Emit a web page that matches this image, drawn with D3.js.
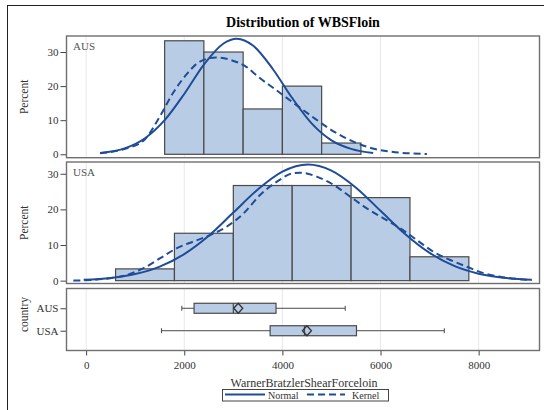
<!DOCTYPE html>
<html><head><meta charset="utf-8">
<script src="https://cdn.jsdelivr.net/npm/d3@7"></script>
<style>body{margin:0;background:#fff}svg{display:block}text{font-family:"Liberation Serif","Times New Roman",serif}</style>
</head><body><div id="chart"></div>
<script>
// ---- data ----
const chartTitle = "Distribution of WBSFloin";
const xTitle = "WarnerBratzlerShearForceloin";
const xTicks = [0, 2000, 4000, 6000, 8000];
const yTicks = [0, 10, 20, 30];
const countries = ["AUS", "USA"];

const ausBinEdges = [1600, 2400, 3200, 4000, 4800, 5600];
const ausPercent = [33.3, 30.0, 13.3, 20.0, 3.3];
const usaBinEdges = [600, 1800, 3000, 4200, 5400, 6600, 7800];
const usaPercent = [3.3, 13.3, 26.7, 26.7, 23.3, 6.7];

const ausNormalX = [285, 800, 1200, 1600, 2000, 2400, 2800, 3070, 3400, 3800, 4200, 4600, 5000, 5400, 5850];
const ausNormalY = [0.4, 1.8, 4.7, 10.0, 17.7, 26.3, 32.5, 33.9, 31.9, 25.1, 16.5, 9.0, 4.1, 1.6, 0.4];
const ausKernelX = [285, 760, 1170, 1510, 1780, 2050, 2320, 2650, 2940, 3280, 3500, 3850, 4260, 4670, 5080, 5480, 5890, 6300, 6945];
const ausKernelY = [0.3, 1.5, 4.0, 11.3, 18.2, 23.5, 27.2, 28.4, 27.7, 25.5, 22.8, 19.1, 14.7, 10.4, 6.4, 3.5, 1.55, 0.6, 0.1];

const usaNormalX = [-50, 500, 1000, 1500, 2000, 2500, 3000, 3500, 4000, 4520, 5000, 5500, 6000, 6500, 7000, 7500, 8000, 8500, 9080];
const usaNormalY = [0.26, 0.77, 1.84, 3.93, 7.47, 12.6, 19.1, 25.6, 30.6, 32.6, 30.9, 26.1, 19.6, 13.1, 7.8, 4.15, 1.96, 0.83, 0.26];
const usaKernelX = [-260, 490, 830, 1170, 1510, 1850, 2190, 2530, 2870, 3210, 3550, 3890, 4230, 4360, 4700, 5040, 5380, 5720, 6060, 6400, 6740, 7080, 7420, 7760, 8100, 8440, 8780, 9080];
const usaKernelY = [0, 0.7, 1.6, 3.5, 6.3, 9.1, 11.0, 12.8, 15.2, 18.9, 24.1, 27.8, 30.2, 30.3, 29.2, 26.9, 23.6, 20.3, 17.5, 14.7, 11.4, 8.1, 5.8, 3.9, 2.1, 1.1, 0.5, 0.2];

const boxMin    = [1950, 1535];
const boxQ1     = [2200, 3750];
const boxMedian = [3000, 4450];
const boxQ3     = [3870, 5510];
const boxMax    = [5280, 7300];
const boxMean   = [3100, 4500];

// ---- layout ----
const W = 544, H = 410;
const curveColor = "#1f4c97";
const fillColor = "#b8cce6";
const edgeColor = "#4a4a4a";
const frameColor = "#6f6f6f";
const gridColor = "#e8e8e8";
const textColor = "#333";

const svg = d3.select("#chart").append("svg").attr("width", W).attr("height", H);

// outer frame
svg.append("rect").attr("x", 7.5).attr("y", 5.5).attr("width", 545).attr("height", 420)
  .attr("fill", "none").attr("stroke", "#222").attr("stroke-width", 1);

const x = d3.scaleLinear().domain([-400, 9240]).range([66.5, 539.5]);

svg.append("text").attr("x", (66.5 + 539.5) / 2).attr("y", 26.5).attr("text-anchor", "middle")
  .attr("font-size", 14).attr("font-weight", "bold").attr("fill", "#000").text(chartTitle);

const panels = [
  {label: "AUS", top: 36, bottom: 157.7, dom: [-1, 34.7], edges: ausBinEdges, pct: ausPercent,
   nx: ausNormalX, ny: ausNormalY, kx: ausKernelX, ky: ausKernelY},
  {label: "USA", top: 162, bottom: 283.5, dom: [-0.8, 33.3], edges: usaBinEdges, pct: usaPercent,
   nx: usaNormalX, ny: usaNormalY, kx: usaKernelX, ky: usaKernelY}
];

function frame(top, bottom) {
  svg.append("rect").attr("x", 66.5).attr("y", top).attr("width", 473).attr("height", bottom - top)
    .attr("fill", "none").attr("stroke", frameColor).attr("stroke-width", 1.4);
}
function grid(g, top, bottom) {
  g.selectAll("line.grid").data(xTicks).join("line").attr("class", "grid")
    .attr("x1", d => x(d)).attr("x2", d => x(d)).attr("y1", top).attr("y2", bottom)
    .attr("stroke", gridColor).attr("stroke-width", 1);
}
function styleAxis(g) {
  g.select(".domain").remove();
  g.selectAll(".tick line").attr("stroke", "#444");
  g.selectAll(".tick text").attr("fill", textColor).attr("font-size", 11)
    .attr("font-family", '"Liberation Serif", serif');
}

panels.forEach((p, i) => {
  const y = d3.scaleLinear().domain(p.dom).range([p.bottom, p.top]);
  const clipId = "clip" + i;
  svg.append("clipPath").attr("id", clipId).append("rect")
    .attr("x", 66.5).attr("y", p.top).attr("width", 473).attr("height", p.bottom - p.top);
  const g = svg.append("g").attr("clip-path", `url(#${clipId})`);
  grid(g, p.top, p.bottom);
  const bins = p.pct.map((v, j) => ({x0: p.edges[j], x1: p.edges[j + 1], v}));
  g.selectAll("rect.bar").data(bins).join("rect").attr("class", "bar")
    .attr("x", d => x(d.x0)).attr("width", d => x(d.x1) - x(d.x0))
    .attr("y", d => y(d.v)).attr("height", d => y(0) - y(d.v))
    .attr("fill", fillColor).attr("stroke", edgeColor).attr("stroke-width", 1.2);
  const line = d3.line().x(d => x(d[0])).y(d => y(d[1])).curve(d3.curveMonotoneX);
  g.append("path").datum(d3.zip(p.nx, p.ny)).attr("d", line)
    .attr("fill", "none").attr("stroke", curveColor).attr("stroke-width", 2);
  g.append("path").datum(d3.zip(p.kx, p.ky)).attr("d", line)
    .attr("fill", "none").attr("stroke", curveColor).attr("stroke-width", 2)
    .attr("stroke-dasharray", "7,4");
  const ax = svg.append("g").attr("transform", `translate(66.5,0)`)
    .call(d3.axisLeft(y).tickValues(yTicks).tickSize(6).tickPadding(2));
  styleAxis(ax);
  frame(p.top, p.bottom);
  svg.append("text").attr("x", 73).attr("y", p.top + 14).attr("font-size", 11)
    .attr("fill", "#555").text(p.label);
  svg.append("text").attr("transform", `translate(28,${(p.top + p.bottom) / 2}) rotate(-90)`)
    .attr("text-anchor", "middle").attr("font-size", 11.5).attr("fill", textColor).text("Percent");
});

// ---- box plot panel ----
const bTop = 288.5, bBottom = 350.5;
const yb = d3.scalePoint().domain(countries).range([bTop, bBottom]).padding(0.88);
const gb = svg.append("g");
grid(gb, bTop, bBottom);
const boxes = countries.map((c, i) => ({c, min: boxMin[i], q1: boxQ1[i], med: boxMedian[i], q3: boxQ3[i], max: boxMax[i], mean: boxMean[i]}));
const bh = 10;
const bg = gb.selectAll("g.box").data(boxes).join("g").attr("class", "box");
bg.append("line").attr("x1", d => x(d.min)).attr("x2", d => x(d.q1)).attr("y1", d => yb(d.c)).attr("y2", d => yb(d.c)).attr("stroke", edgeColor);
bg.append("line").attr("x1", d => x(d.q3)).attr("x2", d => x(d.max)).attr("y1", d => yb(d.c)).attr("y2", d => yb(d.c)).attr("stroke", edgeColor);
bg.append("line").attr("x1", d => x(d.min)).attr("x2", d => x(d.min)).attr("y1", d => yb(d.c) - 2.5).attr("y2", d => yb(d.c) + 2.5).attr("stroke", edgeColor);
bg.append("line").attr("x1", d => x(d.max)).attr("x2", d => x(d.max)).attr("y1", d => yb(d.c) - 2.5).attr("y2", d => yb(d.c) + 2.5).attr("stroke", edgeColor);
bg.append("rect").attr("x", d => x(d.q1)).attr("width", d => x(d.q3) - x(d.q1))
  .attr("y", d => yb(d.c) - bh / 2).attr("height", bh)
  .attr("fill", fillColor).attr("stroke", edgeColor).attr("stroke-width", 1.2);
bg.append("line").attr("x1", d => x(d.med)).attr("x2", d => x(d.med)).attr("y1", d => yb(d.c) - bh / 2).attr("y2", d => yb(d.c) + bh / 2).attr("stroke", edgeColor).attr("stroke-width", 1.2);
bg.append("path").attr("d", d => {
  const cx = x(d.mean), cy = yb(d.c);
  return `M${cx},${cy - 5}L${cx + 4.5},${cy}L${cx},${cy + 5}L${cx - 4.5},${cy}Z`;
}).attr("fill", "none").attr("stroke", "#333").attr("stroke-width", 1.3);

const axb = svg.append("g").attr("transform", `translate(66.5,0)`)
  .call(d3.axisLeft(yb).tickSize(6).tickPadding(2));
styleAxis(axb);
const axx = svg.append("g").attr("transform", `translate(0,${bBottom})`)
  .call(d3.axisBottom(x).tickValues(xTicks).tickFormat(d3.format("d")).tickSize(5).tickPadding(6));
styleAxis(axx);
frame(bTop, bBottom);
svg.append("text").attr("transform", `translate(28,${(bTop + bBottom) / 2 - 5}) rotate(-90)`)
  .attr("text-anchor", "middle").attr("font-size", 11.5).attr("fill", textColor).text("country");

svg.append("text").attr("x", 304).attr("y", 387).attr("text-anchor", "middle")
  .attr("font-size", 12).attr("fill", textColor).text(xTitle);

// ---- legend ----
const lg = svg.append("g");
lg.append("rect").attr("x", 222.5).attr("y", 389.5).attr("width", 166).attr("height", 11.5)
  .attr("fill", "none").attr("stroke", "#444").attr("stroke-width", 1);
lg.append("line").attr("x1", 225).attr("x2", 265).attr("y1", 394.5).attr("y2", 394.5)
  .attr("stroke", curveColor).attr("stroke-width", 2);
lg.append("text").attr("x", 268).attr("y", 398.5).attr("font-size", 10).attr("fill", textColor).text("Normal");
lg.append("line").attr("x1", 307).attr("x2", 345).attr("y1", 394.5).attr("y2", 394.5)
  .attr("stroke", curveColor).attr("stroke-width", 2).attr("stroke-dasharray", "7,4");
lg.append("text").attr("x", 352).attr("y", 398.5).attr("font-size", 10).attr("fill", textColor).text("Kernel");
</script></body></html>
